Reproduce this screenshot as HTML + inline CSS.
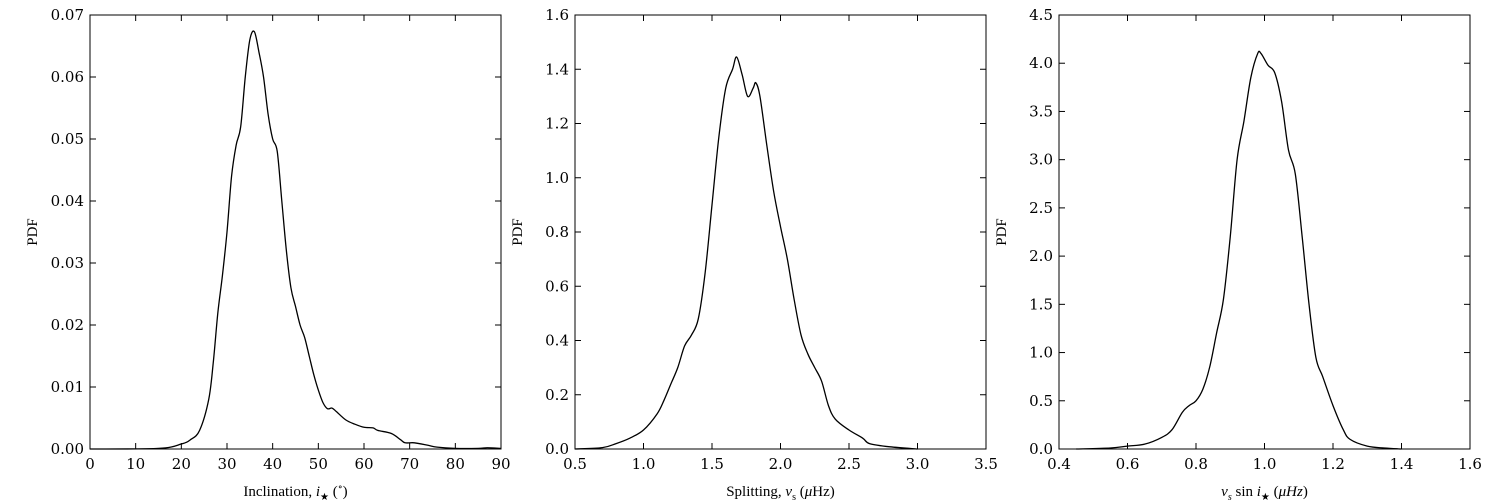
<!DOCTYPE html>
<html><head><meta charset="utf-8">
<style>
html,body{margin:0;padding:0;background:#fff;}
svg{display:block;font-family:"Liberation Serif","DejaVu Serif",serif;}
.tick{font-family:"DejaVu Serif","Liberation Serif",serif;}
</style></head>
<body>
<svg id="chart" width="1500" height="500" viewBox="0 0 1500 500" xmlns="http://www.w3.org/2000/svg"></svg>
<script>
// Panel 1: inclination
const incX = [0,15,20,22,24,26,27,28,29,30,31,32,33,34,35,36,37,38,39,40,41,42,43,44,45,46,47,48,49,50,51,52,53,54,56,58,60,62,63,66,68,69,71,74,76,80,85,87,90];
const incY = [0,0.0001,0.0008,0.0015,0.003,0.008,0.014,0.022,0.028,0.035,0.044,0.049,0.052,0.060,0.066,0.0673,0.064,0.060,0.054,0.050,0.048,0.040,0.032,0.026,0.023,0.020,0.018,0.015,0.012,0.0095,0.0075,0.0065,0.0066,0.006,0.0047,0.004,0.0035,0.0034,0.003,0.0025,0.0015,0.001,0.001,0.0006,0.0003,0.0001,0.0001,0.0002,0.0001];
const incXTicks = [0,10,20,30,40,50,60,70,80,90];
const incYTicks = [0,0.01,0.02,0.03,0.04,0.05,0.06,0.07];
const incYLabels = ["0.00","0.01","0.02","0.03","0.04","0.05","0.06","0.07"];
// Panel 2: splitting
const splX = [0.5,0.7,0.8,0.9,1.0,1.1,1.15,1.2,1.25,1.3,1.35,1.4,1.45,1.5,1.55,1.6,1.65,1.68,1.72,1.76,1.8,1.82,1.85,1.9,1.95,2.0,2.05,2.1,2.15,2.2,2.25,2.3,2.35,2.4,2.5,2.6,2.65,2.8,3.0];
const splY = [0,0.005,0.02,0.04,0.07,0.13,0.18,0.24,0.3,0.38,0.42,0.48,0.65,0.9,1.15,1.33,1.4,1.445,1.38,1.30,1.33,1.35,1.30,1.12,0.95,0.82,0.70,0.55,0.42,0.35,0.30,0.25,0.16,0.11,0.07,0.04,0.02,0.008,0];
const splXTicks = [0.5,1.0,1.5,2.0,2.5,3.0,3.5];
const splYTicks = [0,0.2,0.4,0.6,0.8,1.0,1.2,1.4,1.6];
// Panel 3: nu_s sin i
const nsiX = [0.45,0.55,0.6,0.65,0.7,0.73,0.76,0.78,0.8,0.82,0.84,0.86,0.88,0.9,0.92,0.94,0.96,0.98,0.99,1.01,1.03,1.05,1.07,1.09,1.11,1.13,1.15,1.17,1.2,1.23,1.25,1.3,1.35,1.4];
const nsiY = [0,0.01,0.03,0.05,0.12,0.2,0.38,0.45,0.5,0.62,0.85,1.2,1.55,2.2,3.0,3.4,3.85,4.1,4.1,3.98,3.9,3.6,3.1,2.85,2.2,1.5,0.95,0.75,0.45,0.2,0.1,0.03,0.01,0];
const nsiXTicks = [0.4,0.6,0.8,1.0,1.2,1.4,1.6];
const nsiYTicks = [0,0.5,1.0,1.5,2.0,2.5,3.0,3.5,4.0,4.5];

const NS="http://www.w3.org/2000/svg";
const svg=document.getElementById('chart');
function mk(tag,attrs,parent){const e=document.createElementNS(NS,tag);for(const k in attrs)e.setAttribute(k,attrs[k]);(parent||svg).appendChild(e);return e;}

function panel(cfg){
  const g=mk('g',{});
  
  
  const L=cfg.left,R=cfg.left+411,T=15,B=449;
  const sx=v=>L+(v-cfg.xmin)/(cfg.xmax-cfg.xmin)*(R-L);
  const sy=v=>B-(v-cfg.ymin)/(cfg.ymax-cfg.ymin)*(B-T);
  const p=cfg.xs.map((x,i)=>[sx(x),sy(cfg.ys[i])]);
  let d=`M${p[0][0]},${p[0][1]}`;
  for(let i=0;i<p.length-1;i++){
    const p0=p[i-1]||p[i],p1=p[i],p2=p[i+1],p3=p[i+2]||p2;
    const c1=[p1[0]+(p2[0]-p0[0])/6,p1[1]+(p2[1]-p0[1])/6];
    const c2=[p2[0]-(p3[0]-p1[0])/6,p2[1]-(p3[1]-p1[1])/6];
    d+=` C${c1[0]},${c1[1]} ${c2[0]},${c2[1]} ${p2[0]},${p2[1]}`;
  }
  const line=mk('path',{d:d,fill:'none',stroke:'#000','stroke-width':1.3},g);
  
  
  const frame=mk('rect',{x:L,y:T,width:R-L,height:B-T,fill:'none',stroke:'#000','stroke-width':1},g);
  
  
  cfg.xt.forEach((v,i)=>{
    const x=sx(v);
    mk('line',{x1:x,y1:B,x2:x,y2:B-6,stroke:'#000'},g);
    mk('line',{x1:x,y1:T,x2:x,y2:T+6,stroke:'#000'},g);
    const t=mk('text',{x:x,y:B+20,'text-anchor':'middle','font-size':15,'class':'tick'},g);
    t.textContent=cfg.xl?cfg.xl[i]:v.toFixed(cfg.xd);
    
    
  });
  cfg.yt.forEach((v,i)=>{
    const y=sy(v);
    mk('line',{x1:L,y1:y,x2:L+6,y2:y,stroke:'#000'},g);
    mk('line',{x1:R,y1:y,x2:R-6,y2:y,stroke:'#000'},g);
    const t=mk('text',{x:L-6,y:y+5,'text-anchor':'end','font-size':15,'class':'tick'},g);
    t.textContent=cfg.yl?cfg.yl[i]:v.toFixed(1);
    
    
  });
  const yl=mk('text',{x:0,y:0,'text-anchor':'middle','font-size':15,transform:`translate(${L-53},${(T+B)/2}) rotate(-90)`},g);
  yl.textContent='PDF';
  
  
  const xl=mk('text',{x:(L+R)/2,y:496,'text-anchor':'middle','font-size':15},g);
  xl.innerHTML=cfg.xlabel;
  
  
}
panel({name:'inclination-panel',left:90,xmin:0,xmax:90,ymin:0,ymax:0.07,xs:incX,ys:incY,xt:incXTicks,xd:0,yt:incYTicks,yl:incYLabels,
  xlabel:'Inclination, <tspan font-style="italic">i</tspan><tspan font-size="10" dy="4">★</tspan><tspan dy="-4"> (</tspan><tspan font-size="10" dy="-6">∘</tspan><tspan dy="6">)</tspan>'});
panel({name:'splitting-panel',left:575,xmin:0.5,xmax:3.5,ymin:0,ymax:1.6,xs:splX,ys:splY,xt:splXTicks,xd:1,yt:splYTicks,
  xlabel:'Splitting, <tspan font-style="italic">ν</tspan><tspan font-size="10" dy="4">s</tspan><tspan dy="-4"> (</tspan><tspan font-style="italic">μ</tspan>Hz)'});
panel({name:'vsini-panel',left:1059,xmin:0.4,xmax:1.6,ymin:0,ymax:4.5,xs:nsiX,ys:nsiY,xt:nsiXTicks,xd:1,yt:nsiYTicks,
  xlabel:'<tspan font-style="italic">ν</tspan><tspan font-size="10" font-style="italic" dy="4">s</tspan><tspan dy="-4"> sin </tspan><tspan font-style="italic">i</tspan><tspan font-size="10" dy="4">★</tspan><tspan dy="-4">  (</tspan><tspan font-style="italic">μHz</tspan>)'});
</script>
</body></html>
